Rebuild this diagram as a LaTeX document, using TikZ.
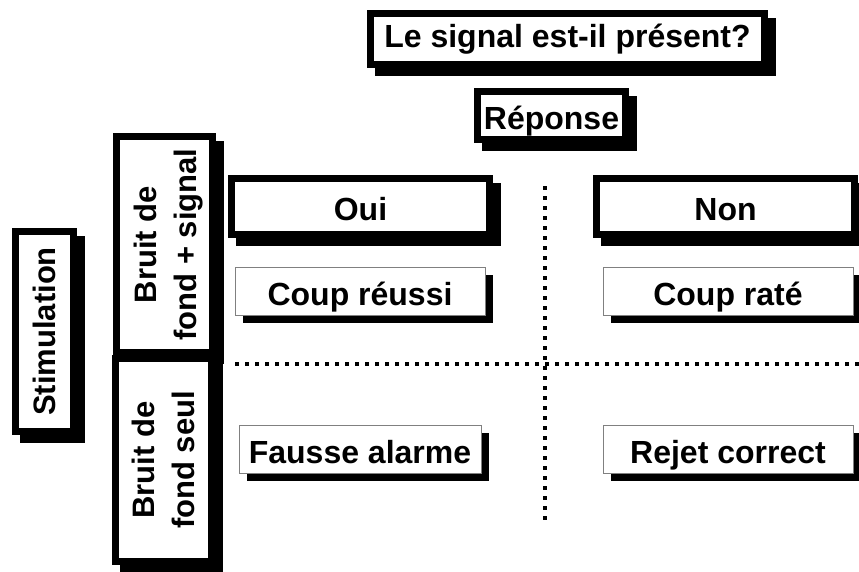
\documentclass[tikz,border=0pt]{standalone}
\usepackage{fontspec}
\usepackage{graphicx}
\setmainfont{Liberation Sans}
\usetikzlibrary{shadows}

\begin{document}
\begin{tikzpicture}[
    x=1pt, y=1pt,
    framebase/.style={rectangle, draw=black, line width=7pt, fill=white, inner sep=0pt, text centered,
      drop shadow={shadow xshift=8pt, shadow yshift=-8pt, opacity=1, fill=black, draw=black, line width=7pt}},
    heavybox/.style={framebase, text height=28pt, text depth=0pt, font=\fontsize{32}{38}\selectfont\bfseries},
    lightbox/.style={rectangle, draw=gray, line width=1pt, fill=white, inner sep=0pt, text centered,
      minimum width=250pt, minimum height=48pt, text height=29pt, text depth=0pt,
      font=\fontsize{32}{38}\selectfont\bfseries,
      drop shadow={shadow xshift=8pt, shadow yshift=-8pt, opacity=1, fill=black}},
    sidebox/.style={framebase, minimum width=96pt, font=\fontsize{31}{40}\selectfont\bfseries},
    gridline/.style={line width=4pt, dash pattern=on 4pt off 6pt}
  ]
    \useasboundingbox (0,0) rectangle (859,-571);

    \coordinate (vtop) at (545,-186);
    \coordinate (vbot) at (545,-524);
    \coordinate (hleft) at (235,-364);
    \coordinate (hright) at (859,-364);
    \draw[gridline] (vtop) -- (vbot);
    \draw[gridline] (hleft) -- (hright);

    \node[heavybox, minimum width=394pt, minimum height=51pt, text height=16pt] (question) at (567.5,-39) {Le signal est-il présent?};
    \node[heavybox, minimum width=148pt, minimum height=48pt] (reponse) at (551.5,-115.5) {Réponse};
    \node[heavybox, minimum width=258pt, minimum height=56pt] (oui) at (360.5,-206.5) {Oui};
    \node[heavybox, minimum width=258pt, minimum height=56pt] (non) at (725.5,-206.5) {Non};

    \node[lightbox] (hit) at (360,-291) {Coup réussi};
    \node[lightbox] (miss) at (728,-291) {Coup raté};
    \node[lightbox, minimum width=242pt] (falsealarm) at (360,-449) {Fausse alarme};
    \node[lightbox] (reject) at (728,-449) {Rejet correct};

    \node[sidebox, minimum height=216pt] (signal) at (164.5,-244.5)
      {\rotatebox{90}{\begin{tabular}{@{}c@{}}\rule{0pt}{36pt}Bruit de\\fond + signal\end{tabular}}};
    \node[sidebox, minimum height=203pt] (noise) at (163.5,-460)
      {\rotatebox{90}{\begin{tabular}{@{}c@{}}\rule{0pt}{34pt}Bruit de\\fond seul\end{tabular}}};
    \node[sidebox, minimum width=58pt, minimum height=200pt] (stim) at (44.5,-331.5)
      {\rotatebox{90}{Stimulation}};

  \end{tikzpicture}
\end{document}
